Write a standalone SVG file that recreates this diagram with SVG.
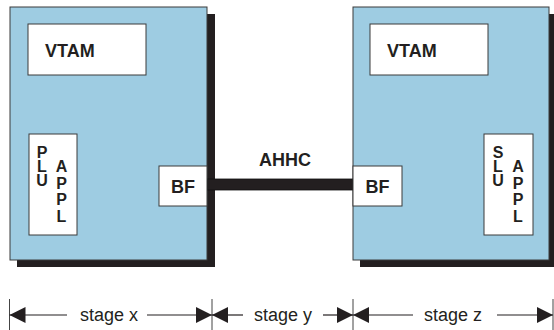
<svg xmlns="http://www.w3.org/2000/svg" width="554" height="330" viewBox="0 0 554 330">
<style>
.shadow{fill:#231f20}
.sys{fill:#9ecce2;stroke:#3a3a3a;stroke-width:1}
.inner{fill:#ffffff;stroke:#3a3a3a;stroke-width:1}
.lbl{font-family:"Liberation Sans",Arial,sans-serif;font-weight:bold;font-size:18px;fill:#231f20}
.vl{font-family:"Liberation Sans",Arial,sans-serif;font-weight:bold;font-size:16px;fill:#231f20;writing-mode:vertical-rl;text-orientation:upright}
.a{letter-spacing:-3px}
.b{letter-spacing:-0.3px}
.dim{font-family:"Liberation Sans",Arial,sans-serif;font-size:18px;fill:#231f20;text-anchor:middle}
.dl{stroke:#231f20;stroke-width:1.2;fill:none}
.tick{stroke:#444;stroke-width:1}
</style>
<defs>
<marker id="ah" viewBox="0 0 16 16" refX="16" refY="8" markerWidth="16" markerHeight="16" markerUnits="userSpaceOnUse" orient="auto-start-reverse">
<path d="M0,0 L16,8 L0,16 Z" fill="#231f20"/>
</marker>
</defs>

<g id="system-left">
<rect class="shadow" x="17" y="14" width="198" height="253"/>
<rect class="sys" x="10" y="7" width="197" height="253"/>
</g>
<g id="system-right">
<rect class="shadow" x="360" y="14" width="194" height="253"/>
<rect class="sys" x="353" y="7" width="196" height="253"/>
</g>

<g id="connectors">
<rect x="207" y="179" width="146" height="11" fill="#231f20" stroke="#111" stroke-width="0.8"/>
</g>

<g id="vtam-left">
<rect class="inner" x="28" y="24" width="118" height="51"/>
<text class="lbl" x="45" y="57">VTAM</text>
</g>
<g id="vtam-right">
<rect class="inner" x="370" y="24" width="118" height="51"/>
<text class="lbl" x="387" y="57">VTAM</text>
</g>

<g id="plu-appl">
<rect class="inner" x="29" y="134" width="48" height="101"/>
<text class="vl a" x="42" y="144">PLU</text>
<text class="vl b" x="61.5" y="158">APPL</text>
</g>
<g id="slu-appl">
<rect class="inner" x="484" y="134" width="49" height="101"/>
<text class="vl a" x="498" y="144">SLU</text>
<text class="vl b" x="518" y="158">APPL</text>
</g>

<g id="bf-left">
<rect class="inner" x="159" y="166" width="48" height="40"/>
<text class="lbl" x="183" y="193" text-anchor="middle">BF</text>
</g>
<g id="bf-right">
<rect class="inner" x="353" y="166" width="49" height="40"/>
<text class="lbl" x="377.5" y="193" text-anchor="middle">BF</text>
</g>

<g id="ahhc-label">
<text class="lbl" x="285" y="166" text-anchor="middle">AHHC</text>
</g>

<g id="stages">
<line class="tick" x1="9.5" y1="299" x2="9.5" y2="330"/>
<line class="tick" x1="212" y1="299" x2="212" y2="330"/>
<line class="tick" x1="353" y1="299" x2="353" y2="330"/>
<line class="tick" x1="553" y1="299" x2="553" y2="330"/>
<line class="dl" x1="67" y1="315" x2="9.5" y2="315" marker-end="url(#ah)"/>
<line class="dl" x1="147" y1="315" x2="212" y2="315" marker-end="url(#ah)"/>
<line class="dl" x1="243" y1="315" x2="212" y2="315" marker-end="url(#ah)"/>
<line class="dl" x1="323" y1="315" x2="353" y2="315" marker-end="url(#ah)"/>
<line class="dl" x1="413" y1="315" x2="353" y2="315" marker-end="url(#ah)"/>
<line class="dl" x1="497" y1="315" x2="553" y2="315" marker-end="url(#ah)"/>
<text class="dim" x="109" y="321">stage x</text>
<text class="dim" x="283" y="321">stage y</text>
<text class="dim" x="453" y="321">stage z</text>
</g>
</svg>
